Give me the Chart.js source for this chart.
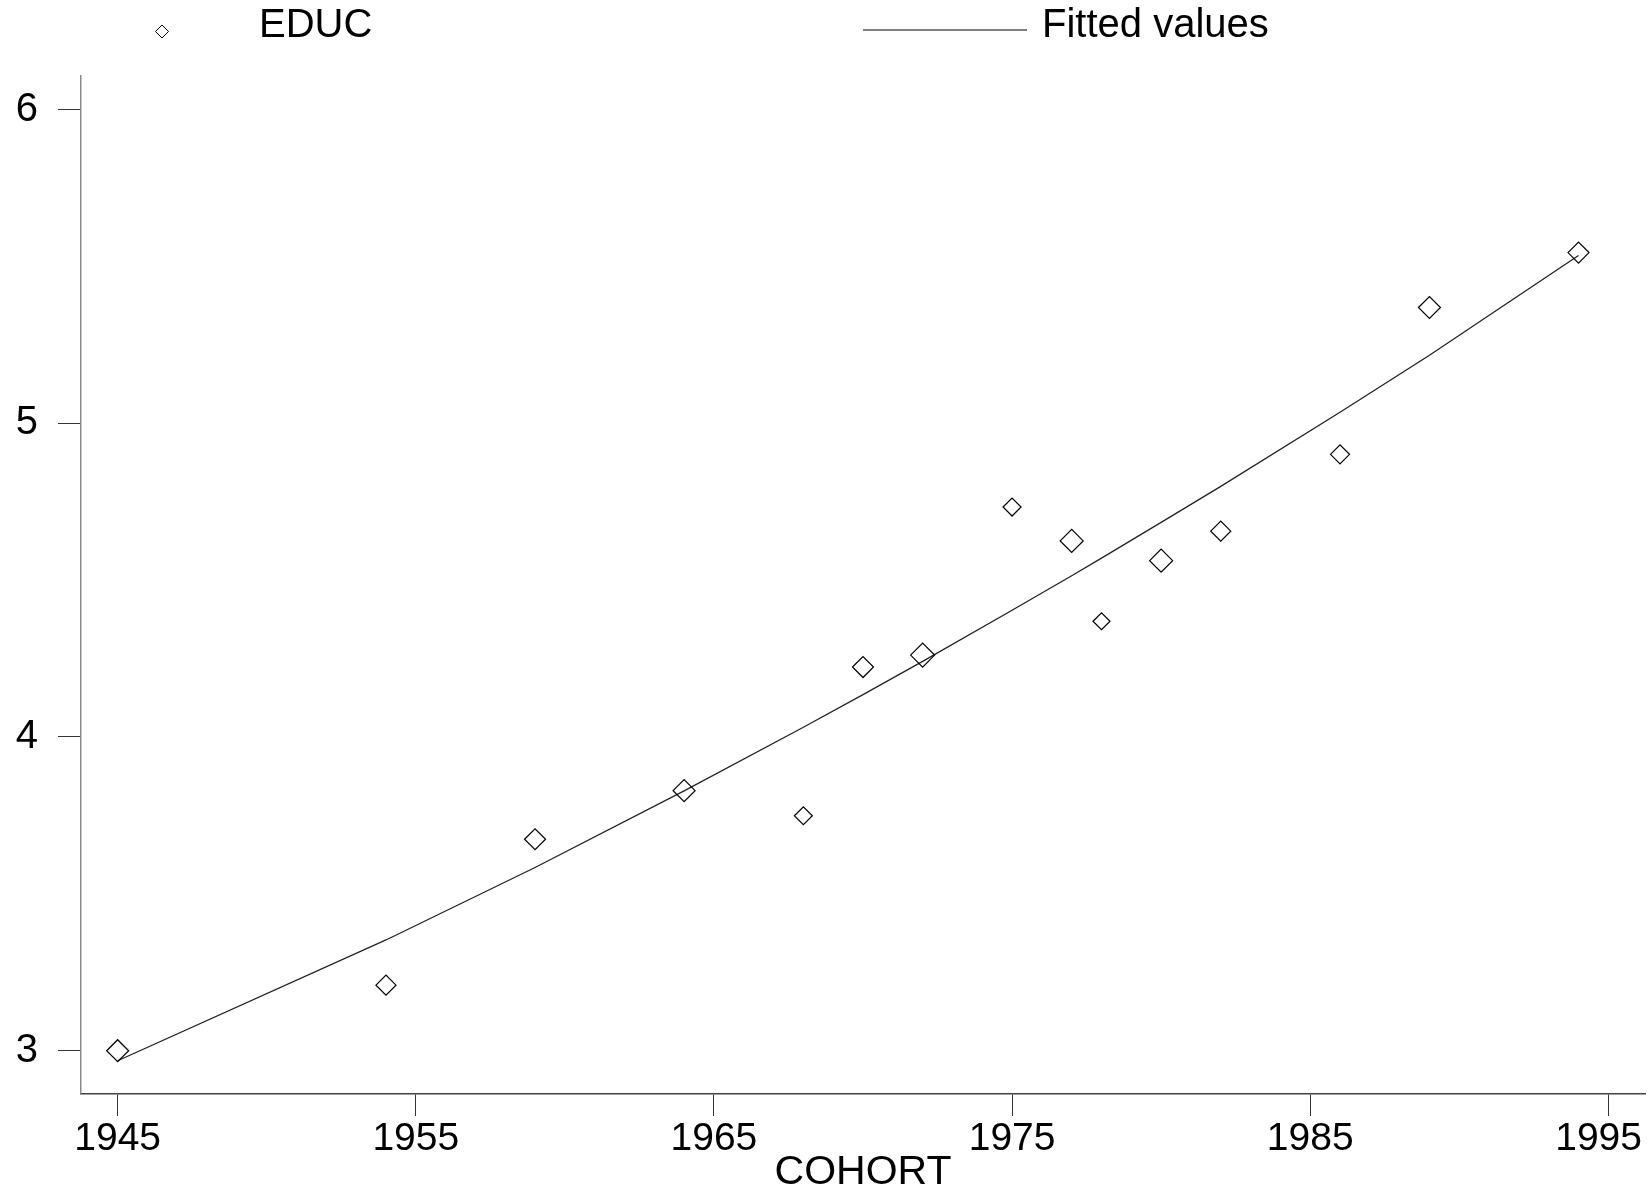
<!DOCTYPE html>
<html>
<head>
<meta charset="utf-8">
<script src="https://cdn.jsdelivr.net/npm/chart.js@4.4.0/dist/chart.umd.min.js"></script>
<style>
  html, body { margin: 0; padding: 0; background: #fff; }
  #wrap { width: 1648px; height: 1195px; }
</style>
</head>
<body>
<div id="wrap"><canvas id="chart" width="1648" height="1195"></canvas></div>
<script>
// cohort years and education values
const cohort = [1945, 1954, 1959, 1964, 1968, 1970, 1972, 1975, 1977, 1978, 1980, 1982, 1986, 1989, 1994];
const educ = [3.0, 3.209, 3.674, 3.829, 3.749, 4.223, 4.261, 4.733, 4.625, 4.369, 4.562, 4.656, 4.901, 5.369, 5.544];
const fitted = [2.968, 3.353, 3.584, 3.828, 4.031, 4.135, 4.241, 4.404, 4.514, 4.570, 4.684, 4.799, 5.035, 5.217, 5.535];

const xTicks = [1945, 1955, 1965, 1975, 1985, 1995];
const yTicks = [3, 4, 5, 6];
const seriesLabels = ["EDUC", "Fitted values"];

// marker half-diagonals (the diamonds are weighted in the original)
const markerRadius = [11, 10, 10.5, 11, 9, 10.5, 12, 9, 11.5, 8.5, 11.5, 10, 9.5, 11, 10.5];

const FONT = "'Liberation Sans', Arial, Helvetica, sans-serif";

const legendPlugin = {
  id: "stataLegend",
  afterDraw(chart) {
    const ctx = chart.ctx;
    ctx.save();
    // diamond marker
    const cx = 162, cy = 31.5, r = 6.5;
    ctx.beginPath();
    ctx.moveTo(cx - r, cy);
    ctx.lineTo(cx, cy - r);
    ctx.lineTo(cx + r, cy);
    ctx.lineTo(cx, cy + r);
    ctx.closePath();
    ctx.lineWidth = 1;
    ctx.strokeStyle = "#000";
    ctx.stroke();
    // line sample
    ctx.beginPath();
    ctx.moveTo(863, 30);
    ctx.lineTo(1027, 30);
    ctx.lineWidth = 1.5;
    ctx.strokeStyle = "#555";
    ctx.stroke();

    ctx.fillStyle = "#000";
    ctx.font = "40px " + FONT;
    ctx.textBaseline = "alphabetic";
    ctx.textAlign = "left";
    ctx.fillText(seriesLabels[0], 259, 37);
    ctx.fillText(seriesLabels[1], 1042, 37);
    ctx.restore();
  }
};

// the x scale keeps ~10px spare on the right for its last label;
// push the plot edge back out to where the original has it
const plotEdgePlugin = {
  id: "plotEdge",
  afterLayout(chart) {
    const right = chart.width - 3;
    const xs = chart.scales.x;
    chart.chartArea.right = right;
    chart.chartArea.width = right - chart.chartArea.left;
    xs.right = right;
    xs.width = right - xs.left;
    xs.configure();
  }
};

const points = cohort.map((c, i) => ({ x: c, y: educ[i] }));
const fitLine = cohort.map((c, i) => ({ x: c, y: fitted[i] }));

new Chart(document.getElementById("chart"), {
  type: "scatter",
  data: {
    datasets: [
      {
        label: seriesLabels[0],
        data: points,
        pointStyle: "rectRot",
        pointRadius: markerRadius,
        pointHoverRadius: markerRadius,
        pointBorderWidth: 1.2,
        pointBorderColor: "#000",
        pointBackgroundColor: "rgba(0,0,0,0)",
        showLine: false,
        order: 1,
      },
      {
        label: seriesLabels[1],
        data: fitLine,
        showLine: true,
        borderColor: "#222",
        borderWidth: 1.3,
        pointRadius: 0,
        fill: false,
        tension: 0,
        order: 2,
      },
    ],
  },
  options: {
    responsive: false,
    animation: false,
    devicePixelRatio: 1,
    layout: { padding: { top: 76, right: 3, left: 0, bottom: 0 } },
    plugins: {
      legend: { display: false },
      tooltip: { enabled: false },
    },
    scales: {
      x: {
        type: "linear",
        min: 1943.77,
        max: 1996.23,
        afterBuildTicks(scale) {
          scale.ticks = xTicks.map(v => ({ value: v }));
        },
        afterFit(scale) {
          scale.height = 101;
          scale.paddingLeft = 0;
          scale.paddingRight = 0;
        },
        ticks: {
          autoSkip: false,
          maxRotation: 0,
          padding: 0,
          color: "#000",
          font: { family: FONT, size: 39 },
          callback: v => (v === 1995 ? v + "\u2002" : String(v)),
        },
        grid: {
          drawOnChartArea: false,
          drawTicks: true,
          tickLength: 22,
          color: "#333",
          lineWidth: 1,
        },
        border: { display: true, color: "#444", width: 1.5 },
        title: {
          display: true,
          text: "COHORT",
          color: "#000",
          font: { family: FONT, size: 41, lineHeight: 1.1 },
          padding: { top: 0, bottom: 0 },
        },
      },
      y: {
        type: "linear",
        min: 2.862,
        max: 6.107,
        afterBuildTicks(scale) {
          scale.ticks = yTicks.map(v => ({ value: v }));
        },
        afterFit(scale) {
          scale.width = 81;
        },
        ticks: {
          padding: 20,
          color: "#000",
          font: { family: FONT, size: 40 },
          callback: v => String(v),
        },
        grid: {
          drawOnChartArea: false,
          drawTicks: true,
          tickLength: 23,
          color: "#333",
          lineWidth: 1,
        },
        border: { display: true, color: "#888", width: 1.5 },
      },
    },
  },
  plugins: [plotEdgePlugin, legendPlugin],
});
</script>
</body>
</html>
